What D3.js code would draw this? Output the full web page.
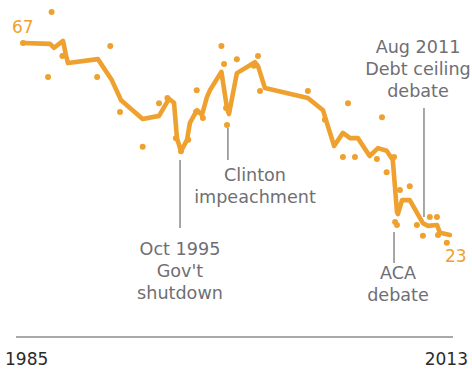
<!DOCTYPE html>
<html>
<head>
<meta charset="utf-8">
<script src="https://cdn.jsdelivr.net/npm/d3@7"></script>
<style>
  html, body { margin: 0; padding: 0; background: #fff; }
  svg { display: block; }
  text { font-family: "DejaVu Sans", Verdana, sans-serif; }
</style>
</head>
<body>
<svg id="chart" width="472" height="369"></svg>
<script>
// Trend line (decimal year, percent)
const trendYears = [1985.65, 1987.4, 1987.66, 1988.24, 1988.43, 1988.56, 1990.5, 1991.4, 1992.0, 1993.4,
  1994.46, 1995.1, 1995.43, 1995.62, 1995.88, 1996.27, 1996.46, 1996.92, 1997.24, 1997.56,
  1997.76, 1998.5, 1998.86, 1998.99, 1999.5, 2000.67, 2000.87, 2001.32, 2004.1, 2005.08,
  2005.27, 2005.8, 2006.37, 2006.83, 2007.34, 2008.1, 2008.64, 2009.2, 2009.6, 2009.87,
  2009.93, 2010.2, 2010.7, 2011.55, 2011.88, 2012.46, 2012.66, 2013.3];
const trendValues = [67, 66.8, 65.9, 67.5, 64.2, 62.4, 63.3, 58.5, 53.9, 49.6,
  50.3, 54.2, 53.3, 45.2, 42.2, 44.8, 48.7, 51.6, 50.5, 54.6,
  56.2, 60.4, 52.1, 50.7, 60.1, 62.6, 61.7, 56.7, 54.4, 51.6,
  49.4, 43.4, 46.4, 45.2, 45.2, 41.1, 42.9, 42.3, 40.2, 28.3,
  27.8, 31.0, 31.0, 25.7, 25.1, 25.3, 23.5, 23];

// Individual survey readings
const pollYears = [1985.65, 1987.5, 1987.27, 1988.2, 1991.3, 1990.45, 1991.93, 1993.4, 1994.46, 1995.0,
  1995.55, 1995.88, 1996.35, 1996.9, 1996.85, 1997.3, 1998.5, 1998.67, 1998.86, 1998.8,
  1999.5, 2000.87, 2000.6, 2001.0, 2004.1, 2005.2, 2006.7, 2008.9, 2006.37, 2007.15,
  2008.57, 2009.2, 2009.68, 2010.06, 2010.7, 2009.75, 2009.87, 2011.16, 2011.55, 2012.0,
  2012.46, 2012.53, 2013.1];
const pollValues = [67, 74.1, 59.2, 64.0, 66.3, 59.2, 51.2, 43.2, 53.2, 54.4,
  45.2, 42.2, 44.8, 56.2, 51.2, 49.8, 66.3, 62.2, 48.2, 52.1,
  63.3, 64.0, 61.8, 56.0, 56.0, 49.4, 53.2, 50.0, 40.9, 40.9,
  40.4, 37.4, 40.9, 33.3, 34.2, 26.0, 25.3, 25.3, 22.8, 27.1,
  27.1, 23.0, 21.2];

// Annotated events
const eventYears = [1995.82, 1998.92, 2009.68, 2011.62];
const eventLabels = [
  ["Oct 1995", "Gov't", "shutdown"],
  ["Clinton", "impeachment"],
  ["ACA", "debate"],
  ["Aug 2011", "Debt ceiling", "debate"]
];

const axisLabels = ["1985", "2013"];
const endLabels = ["67", "23"];

const orange = "#efa12f";
const grey = "#6f6f73";

const svg = d3.select("#chart");

const x = d3.scaleLinear().domain([1985, 2013.5]).range([13, 453]);
const y = d3.scaleLinear().domain([23, 67]).range([235, 43]);

// Baseline and end-year labels
svg.append("line")
  .attr("x1", 16).attr("x2", x(2013.5))
  .attr("y1", 337).attr("y2", 337)
  .attr("stroke", "#a9a9a9").attr("stroke-width", 2);

svg.append("text").attr("x", 5).attr("y", 365)
  .attr("font-size", 17).attr("fill", "#2b2b2b")
  .text(axisLabels[0]);
svg.append("text").attr("x", 468).attr("y", 365)
  .attr("text-anchor", "end")
  .attr("font-size", 17).attr("fill", "#2b2b2b")
  .text(axisLabels[1]);

// Event leader lines and labels
const leaders = [
  { y1: 160, y2: 228, cx: 180, base: 255 },
  { y1: 128, y2: 160, cx: 255, base: 181 },
  { y1: 232, y2: 263, cx: 398, base: 279 },
  { y1: 108, y2: 217, cx: 418, base: 53 }
];

eventYears.forEach((yr, i) => {
  const L = leaders[i];
  svg.append("line")
    .attr("x1", x(yr)).attr("x2", x(yr))
    .attr("y1", L.y1).attr("y2", L.y2)
    .attr("stroke", "#8a8a8a").attr("stroke-width", 1.5);
  const t = svg.append("text")
    .attr("text-anchor", "middle")
    .attr("font-size", 17.6).attr("fill", grey);
  eventLabels[i].forEach((s, j) => {
    t.append("tspan").attr("x", L.cx).attr("y", L.base + j * 22).text(s);
  });
});

// Survey dots
svg.append("g").selectAll("circle")
  .data(pollYears.map((yr, i) => [yr, pollValues[i]]))
  .join("circle")
  .attr("cx", d => x(d[0]))
  .attr("cy", d => y(d[1]))
  .attr("r", 3)
  .attr("fill", orange);

// Trend line
const line = d3.line().x(d => x(d[0])).y(d => y(d[1]));
svg.append("path")
  .datum(trendYears.map((yr, i) => [yr, trendValues[i]]))
  .attr("d", line)
  .attr("fill", "none")
  .attr("stroke", orange)
  .attr("stroke-width", 4.6)
  .attr("stroke-linejoin", "round")
  .attr("stroke-linecap", "round");

// Start and end values
svg.append("text").attr("x", 12).attr("y", 33)
  .attr("font-size", 17).attr("fill", orange)
  .text(endLabels[0]);
svg.append("text").attr("x", 445).attr("y", 262)
  .attr("font-size", 17).attr("fill", orange)
  .text(endLabels[1]);
</script>
</body>
</html>
